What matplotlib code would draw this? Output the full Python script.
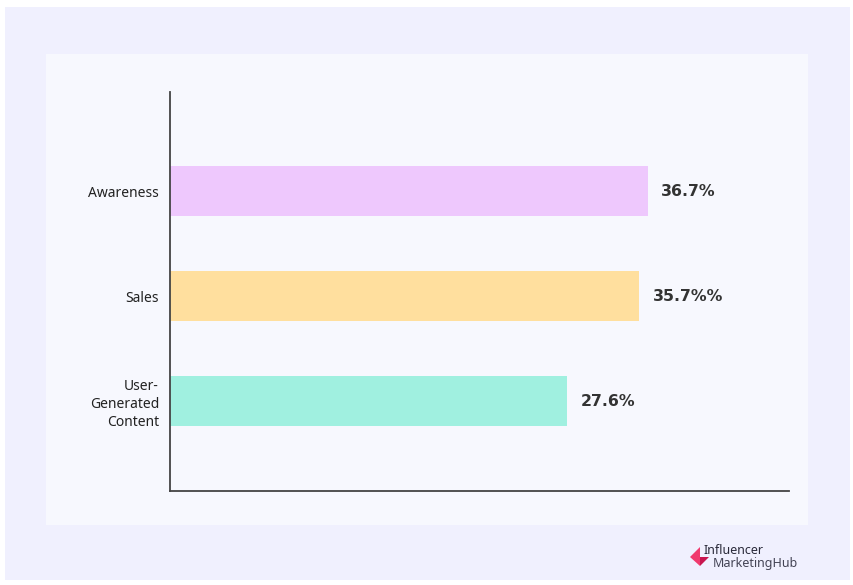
import matplotlib.pyplot as plt
from matplotlib.patches import Rectangle, Polygon

# Campaign goals and their shares
categories = ["Awareness", "Sales", "User-\nGenerated\nContent"]
values = [36.7, 35.7, 27.6]
value_labels = ["36.7%", "35.7%%", "27.6%"]
colors = ["#EEC8FD", "#FFDF9E", "#A0F0E0"]

fig = plt.figure(figsize=(8.54, 5.85), dpi=100)
fig.patch.set_facecolor("white")
W, H = 854, 585

def px_rect(x0, y0, x1, y1, **kw):
    # rectangle given in pixel coordinates (top-left origin)
    fig.patches.append(Rectangle((x0 / W, 1 - y1 / H), (x1 - x0) / W, (y1 - y0) / H,
                                 transform=fig.transFigure, zorder=-2, **kw))

px_rect(5, 7, 850, 580, facecolor="#F0F0FE", edgecolor="none")
px_rect(46, 54, 808, 525, facecolor="#F7F8FE", edgecolor="none")

ax = fig.add_axes([170 / W, 1 - 491 / H, (789 - 170) / W, (491 - 92) / H])
ax.set_facecolor("none")
ax.set_zorder(2)

# value axis does not start at zero; bars grow from the axis minimum
x_min, x_max = -17, 52.6
y = list(range(len(categories)))
ax.barh(y, [v - x_min for v in values], left=x_min, height=0.48, color=colors)
for yi, v, lab in zip(y, values, value_labels):
    ax.text(v + 1.55, yi, lab, va="center", ha="left", fontsize=11.3,
            fontweight="bold", color="#333333")

ax.set_xlim(x_min, x_max)
ax.set_ylim(2.856, -0.944)
ax.set_yticks(y)
ax.set_yticklabels(categories, fontsize=10, color="#222222", family="Noto Sans",
                   linespacing=1.25)
ax.tick_params(axis="y", length=0, pad=8)
ax.set_xticks([])
for s in ["top", "right"]:
    ax.spines[s].set_visible(False)
for s in ["left", "bottom"]:
    ax.spines[s].set_color("#444444")
    ax.spines[s].set_linewidth(1.3)

# brand mark in the lower right corner
def fx(px):
    return px / W

def fy(py):
    return 1 - py / H

fig.patches.append(Polygon([(fx(690), fy(557)), (fx(700), fy(547)), (fx(700), fy(566))],
                           closed=True, transform=fig.transFigure, facecolor="#F03A6E", zorder=2))
fig.patches.append(Polygon([(fx(700), fy(557)), (fx(709), fy(557)), (fx(700), fy(566))],
                           closed=True, transform=fig.transFigure, facecolor="#C8154F", zorder=2))
fig.text(fx(704), fy(550), "Influencer", fontsize=9, fontweight="bold", color="#2A2A3A",
         va="center", ha="left", family="Noto Sans")
fig.text(fx(713), fy(563), "MarketingHub", fontsize=9, color="#444455",
         va="center", ha="left", family="Noto Sans")

fig.savefig("out.png", dpi=100)
